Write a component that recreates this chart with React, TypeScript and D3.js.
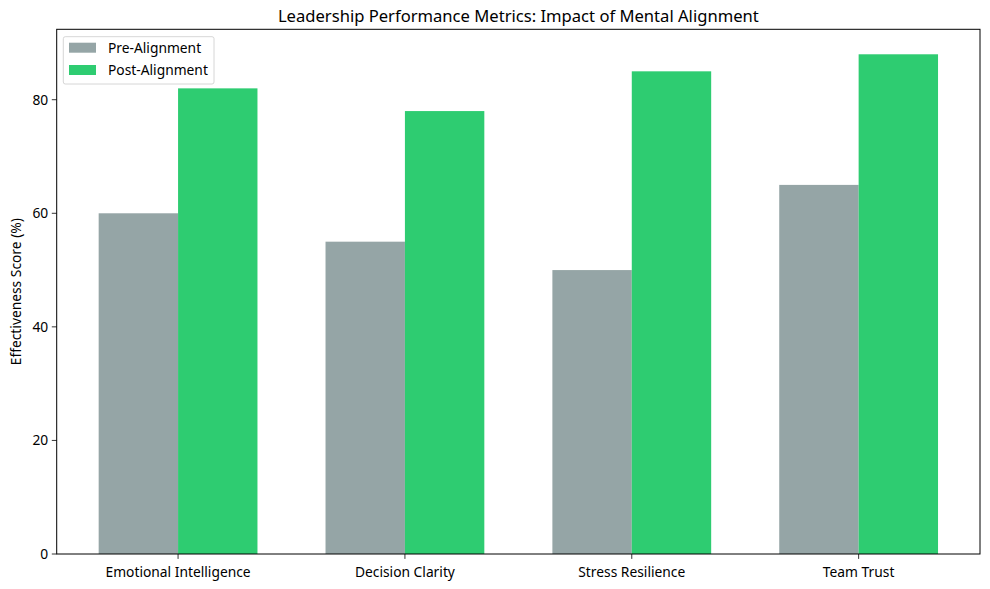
import React from "react";
import * as d3 from "d3";

const categories = ["Emotional Intelligence", "Decision Clarity", "Stress Resilience", "Team Trust"];
const preValues = [60, 55, 50, 65];
const postValues = [82, 78, 85, 88];
const yTicks = [0, 20, 40, 60, 80];
const seriesNames = ["Pre-Alignment", "Post-Alignment"];
const seriesColors = ["#95a5a6", "#2ecc71"];

const W = 990, H = 589;
const left = 56.7, right = 980, top = 29.3, bottom = 554;
const FONT = "'Noto Sans', 'DejaVu Sans', sans-serif";
const FS = 13.8;

export default function App() {
  const x = d3.scaleLinear().domain([-0.535, categories.length - 1 + 0.535]).range([left, right]);
  const yMax = d3.max(postValues.concat(preValues)) as number * 1.05;
  const y = d3.scaleLinear().domain([0, yMax]).range([bottom, top]);
  const bw = 0.35;
  const series = [preValues, postValues];
  return (
    <svg width={W} height={H} style={{ position: "absolute", left: 0, top: 0, fontFamily: FONT }}>
      <rect x={0} y={0} width={W} height={H} fill="#fff" />
      {series.map((vals, si) =>
        vals.map((v, i) => {
          const x0 = x(i + (si === 0 ? -bw : 0));
          const x1 = x(i + (si === 0 ? 0 : bw));
          return <rect key={`${si}-${i}`} x={x0} y={y(v)} width={x1 - x0} height={y(0) - y(v)} fill={seriesColors[si]} />;
        })
      )}
      <rect x={left} y={top} width={right - left} height={bottom - top} fill="none" stroke="#000" strokeWidth={1} />
      {yTicks.map((t) => (
        <g key={t}>
          <line x1={left - 4.9} x2={left} y1={y(t)} y2={y(t)} stroke="#000" strokeWidth={0.8} />
          <text x={left - 8.5} y={y(t)} dy="0.36em" textAnchor="end" fontSize={FS} fill="#000">{t}</text>
        </g>
      ))}
      {categories.map((c, i) => (
        <g key={c}>
          <line x1={x(i)} x2={x(i)} y1={bottom} y2={bottom + 4.9} stroke="#000" strokeWidth={0.8} />
          <text x={x(i)} y={bottom + 23} textAnchor="middle" fontSize={FS} fill="#000">{c}</text>
        </g>
      ))}
      <text x={(left + right) / 2} y={22} textAnchor="middle" fontSize={16.6} fill="#000">
        Leadership Performance Metrics: Impact of Mental Alignment
      </text>
      <text transform={`translate(21,${(top + bottom) / 2}) rotate(-90)`} textAnchor="middle" fontSize={FS} fill="#000">
        Effectiveness Score (%)
      </text>
      <g>
        <rect x={63.3} y={36.7} width={150.7} height={47.3} rx={2} fill="#fff" fillOpacity={0.8} stroke="#ccc" strokeWidth={0.8} />
        {seriesNames.map((n, i) => (
          <g key={n}>
            <rect x={69} y={42.7 + i * 22.3} width={27} height={10} fill={seriesColors[i]} />
            <text x={108} y={47.7 + i * 22.3} dy="0.36em" fontSize={FS} fill="#000">{n}</text>
          </g>
        ))}
      </g>
    </svg>
  );
}
